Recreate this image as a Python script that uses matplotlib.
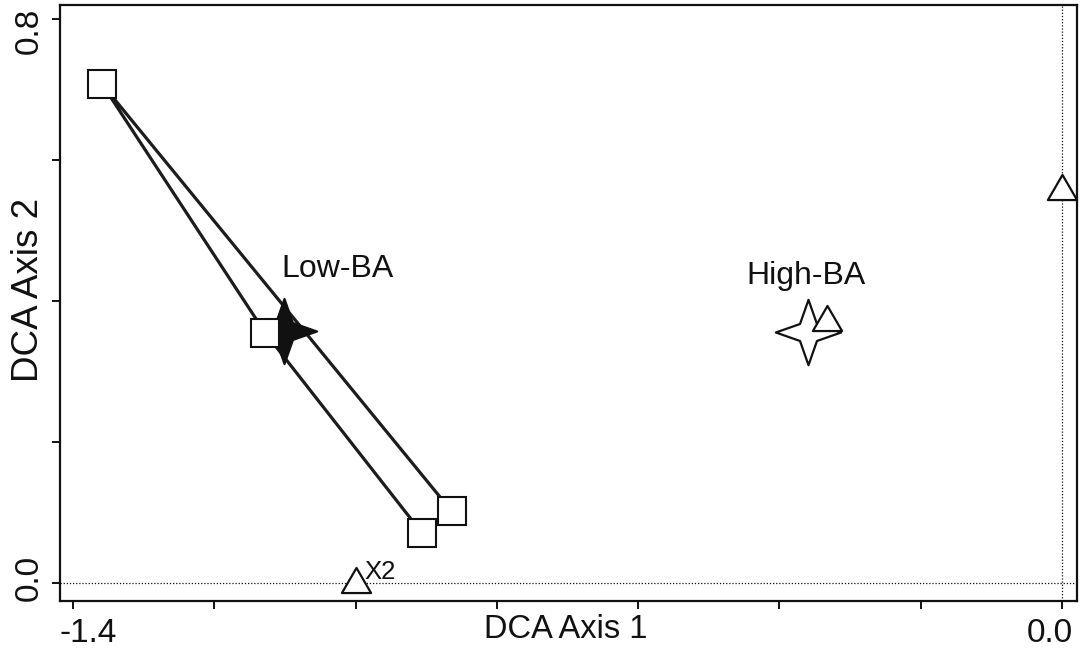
import numpy as np
import matplotlib
matplotlib.use("Agg")
import matplotlib.pyplot as plt
from matplotlib.path import Path
from matplotlib.transforms import ScaledTranslation

plt.rcParams['font.family'] = ['Liberation Sans', 'DejaVu Sans']

# Plot scores (Low-BA group)
plot_x = [-1.359, -1.128, -0.906, -0.864]
plot_y = [0.708, 0.355, 0.071, 0.102]
hull_order = [0, 3, 2, 1, 0]

# Group centroids
group_names = ["Low-BA", "High-BA"]
centroid_x = [-1.102, -0.359]
centroid_y = [0.357, 0.356]
label_x = [-1.026, -0.362]
label_y = [0.445, 0.435]

# Variable scores
var_x = [-0.332, 0.0, -1.0]
var_y = [0.376, 0.562, 0.004]
var_labels = ["", "", "X2"]

xticks = [-1.4, -1.2, -1.0, -0.8, -0.6, -0.4, -0.2, 0.0]
xticklabels = ["-1.4", "", "", "", "", "", "", "0.0"]
yticks = [0.0, 0.2, 0.4, 0.6, 0.8]
yticklabels = ["0.0", "", "", "", "0.8"]

ink = "#111111"

# Marker shapes
a = 0.26
star = Path([(0, 1), (a, a), (1, 0), (a, -a), (0, -1), (-a, -a), (-1, 0), (-a, a), (0, 1)],
            [Path.MOVETO] + [Path.LINETO] * 7 + [Path.CLOSEPOLY])
tri = Path([(-1, -0.86), (1, -0.86), (0, 0.86), (-1, -0.86)],
           [Path.MOVETO, Path.LINETO, Path.LINETO, Path.CLOSEPOLY])

fig = plt.figure(figsize=(10.82, 6.51), dpi=100)
ax = fig.add_axes([60 / 1082, 1 - 601 / 651, 1017 / 1082, 596 / 651])

ax.axhline(0, color=ink, lw=0.9, ls=(0, (1, 1.5)), zorder=1)
ax.axvline(0, color=ink, lw=0.9, ls=(0, (1, 1.5)), zorder=1)

# Convex hull of the Low-BA plots
hx = [plot_x[i] for i in hull_order]
hy = [plot_y[i] for i in hull_order]
ax.plot(hx, hy, color="#1c1c1c", lw=2.3, zorder=2, solid_joinstyle='miter')

# Centroids
ax.plot(centroid_x[0], centroid_y[0], marker=star, ms=47, mfc=ink, mec=ink, mew=1.5,
        ls='none', zorder=3)
ax.plot(centroid_x[1], centroid_y[1], marker=star, ms=47, mfc='white', mec=ink, mew=1.6,
        ls='none', zorder=3)

# Plot squares
ax.plot(plot_x, plot_y, marker='s', ms=20, mfc='white', mec=ink, mew=1.5,
        ls='none', zorder=4)

# Variable triangles
ax.plot(var_x, var_y, marker=tri, ms=21, mfc='white', mec=ink, mew=1.6,
        ls='none', zorder=5, clip_on=False)
for x, y, t in zip(var_x, var_y, var_labels):
    if t:
        ax.text(x + 0.012, y + 0.012, t, fontsize=18.5, color=ink, ha='left', va='center')

for name, x, y in zip(group_names, label_x, label_y):
    ax.text(x, y, name, fontsize=23, color=ink, ha='center', va='center')

ax.set_xlim(-1.4184, 0.0213)
ax.set_ylim(-0.0255, 0.82)
ax.set_aspect('auto')

ax.set_xticks(xticks)
ax.set_xticklabels(xticklabels, fontsize=24)
ax.set_yticks(yticks)
ax.set_yticklabels(yticklabels, fontsize=24, rotation=90, va='center')
ax.tick_params(direction='out', length=6, width=1.4, color=ink, labelcolor=ink)
ax.tick_params(axis='x', pad=6)
ax.tick_params(axis='y', pad=5)

# Nudge end labels inward
xl = ax.get_xticklabels()
xl[0].set_transform(xl[0].get_transform() + ScaledTranslation(15 / 100, 0, fig.dpi_scale_trans))
xl[-1].set_transform(xl[-1].get_transform() + ScaledTranslation(-12 / 100, 0, fig.dpi_scale_trans))
yl = ax.get_yticklabels()
yl[-1].set_transform(yl[-1].get_transform() + ScaledTranslation(0, -12 / 100, fig.dpi_scale_trans))
yl[0].set_transform(yl[0].get_transform() + ScaledTranslation(0, 5 / 100, fig.dpi_scale_trans))

ax.set_xlabel("DCA Axis 1", fontsize=23.5, color=ink, va='center')
ax.xaxis.set_label_coords(0.4975, -0.047)
ax.set_ylabel("DCA Axis 2", fontsize=26.5, color=ink, va='center', ha='center')
ax.yaxis.set_label_coords(-0.031, 0.522)

for s in ax.spines.values():
    s.set_linewidth(1.6)
    s.set_color(ink)

fig.savefig("out.png", dpi=100)
